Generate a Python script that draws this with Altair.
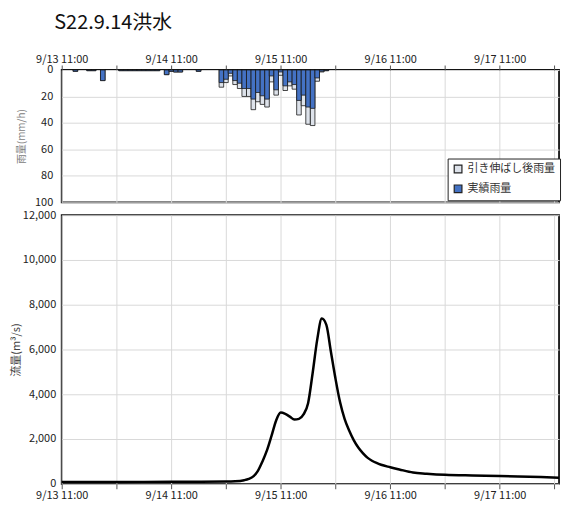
import altair as alt
import pandas as pd

# ---- data ----
rain_hours = [3, 6, 7, 9, 13, 14, 15, 16, 17, 18, 19, 20, 21, 23, 24, 25, 26, 30,
              35, 36, 37, 38, 39, 40, 41, 42, 43, 44, 45, 46, 47, 48, 49, 50, 51, 52,
              53, 54, 55, 56, 57, 58]
rain_actual = [1, 0.5, 0.5, 8, 0.5, 0.5, 0.5, 0.5, 0.5, 0.5, 0.5, 0.5, 0.5, 3.5, 1, 1.5, 1.5, 1,
               9.5, 7, 2.5, 8, 10, 14, 14, 22, 17, 19.5, 22, 4.5, 15, 1.5, 12, 9, 11, 23,
               19, 28, 29, 6, 1, 0.5]
rain_stretched = [1, 0.5, 0.5, 8, 0.5, 0.5, 0.5, 0.5, 0.5, 0.5, 0.5, 0.5, 0.5, 3.5, 1, 1.5, 1.5, 1,
                  13, 9.5, 4.5, 11, 14, 20, 20, 30, 24, 26, 28, 9, 19, 4, 15.5, 12, 14.5, 34,
                  27, 41, 42, 8.5, 1.5, 0.5]
series_names = ["引き伸ばし後雨量", "実績雨量"]
series_colors = ["#dde2ea", "#4472c4"]

flow_hours = [0, 6, 12, 18, 24, 30, 36, 38, 40, 41, 42, 43, 44, 45, 46, 47, 48, 49, 50, 51,
              52, 53, 54, 55, 56, 57, 58, 59, 60, 61, 62, 63, 64, 65, 66, 67, 68, 69, 70,
              72, 74, 77, 80, 84, 90, 96, 100, 105, 109]
flow_values = [80, 80, 80, 85, 90, 95, 100, 110, 160, 220, 330, 580, 1000, 1500, 2150, 2830,
               3180, 3120, 3000, 2870, 2900, 3100, 3600, 4950, 6440, 7380, 7100, 5900, 4700,
               3650, 2900, 2380, 1950, 1620, 1370, 1170, 1030, 930, 850, 740, 640, 500, 450,
               400, 370, 350, 330, 300, 270]

date_labels = ["9/13 11:00", "9/14 11:00", "9/15 11:00", "9/16 11:00", "9/17 11:00"]
tick_hours = list(range(0, 109, 12))

# ---- tables ----
rows = []
for h, v in zip(rain_hours, rain_stretched):
    rows.append({"h0": h - 0.5, "h1": h + 0.5, "rain": v, "series": series_names[0]})
for h, v in zip(rain_hours, rain_actual):
    rows.append({"h0": h - 0.5, "h1": h + 0.5, "rain": v, "series": series_names[1]})
rain_df = pd.DataFrame(rows)
flow_df = pd.DataFrame({"h": flow_hours, "q": flow_values})

label_arr = "[" + ",".join("'" + s + "'" for s in date_labels) + "]"
label_expr = f"datum.value % 24 == 0 ? {label_arr}[datum.value / 24] : ''"

FONT = "Noto Sans CJK JP"
xscale = alt.Scale(domain=[0, 109], nice=False, zero=False)

def xaxis(orient):
    return alt.Axis(orient=orient, values=tick_hours, labelExpr=label_expr, title=None,
                    labelFlush=False, labelOverlap=False, grid=True, gridColor="#d9d9d9",
                    tickColor="#555555", tickSize=5, labelFontSize=11, labelColor="#222222",
                    labelPadding=1, domain=False)

rain = alt.Chart(rain_df).mark_bar(stroke="#1a1a1a", strokeWidth=0.8).encode(
    x=alt.X("h0:Q", scale=xscale, axis=xaxis("top")),
    x2="h1",
    y=alt.Y("rain:Q", scale=alt.Scale(domain=[0, 100], reverse=True, nice=False),
            axis=alt.Axis(values=[0, 20, 40, 60, 80, 100], title="雨量(mm/h)",
                          titleColor="#808080", titleFontSize=10, titleFontWeight="normal",
                          titlePadding=8, labelFontSize=11, labelColor="#222222",
                          ticks=False, labelPadding=9, domain=False,
                          gridColor="#d9d9d9")),
    y2=alt.datum(0),
    color=alt.Color("series:N", sort=series_names,
                    scale=alt.Scale(domain=series_names, range=series_colors),
                    legend=alt.Legend(title=None, orient="none", legendX=388, legendY=89,
                                      fillColor="white", strokeColor="#222222",
                                      padding=5, symbolType="square", symbolSize=60,
                                      symbolStrokeColor="#222222", symbolStrokeWidth=1.2,
                                      labelFontSize=11, labelColor="#333333",
                                      rowPadding=7)),
).properties(width=500, height=133)

flow = alt.Chart(flow_df).mark_line(color="black", strokeWidth=2.5, interpolate="monotone").encode(
    x=alt.X("h:Q", scale=xscale, axis=xaxis("bottom")),
    y=alt.Y("q:Q", scale=alt.Scale(domain=[0, 12000], nice=False),
            axis=alt.Axis(values=list(range(0, 12001, 2000)), format=",.0f",
                          title="流量(m³/s)", titleColor="#404040", titleFontSize=11,
                          titleFontWeight="normal", titlePadding=1, labelFontSize=11,
                          labelColor="#222222", ticks=False, labelPadding=6, domain=False,
                          gridColor="#d9d9d9")),
).properties(width=500, height=270)

chart = alt.vconcat(rain, flow, spacing=13, bounds="flush").properties(
    title=alt.Title("S22.9.14洪水", anchor="start", fontSize=20, fontWeight="normal",
                    color="#111111", offset=19, dx=45),
    padding={"left": 1, "top": 4, "right": 0, "bottom": 0},
).configure(font=FONT).configure_view(stroke="#111111", strokeWidth=1.8)

chart.save("out.html", embed_options={"renderer": "svg", "actions": False})
